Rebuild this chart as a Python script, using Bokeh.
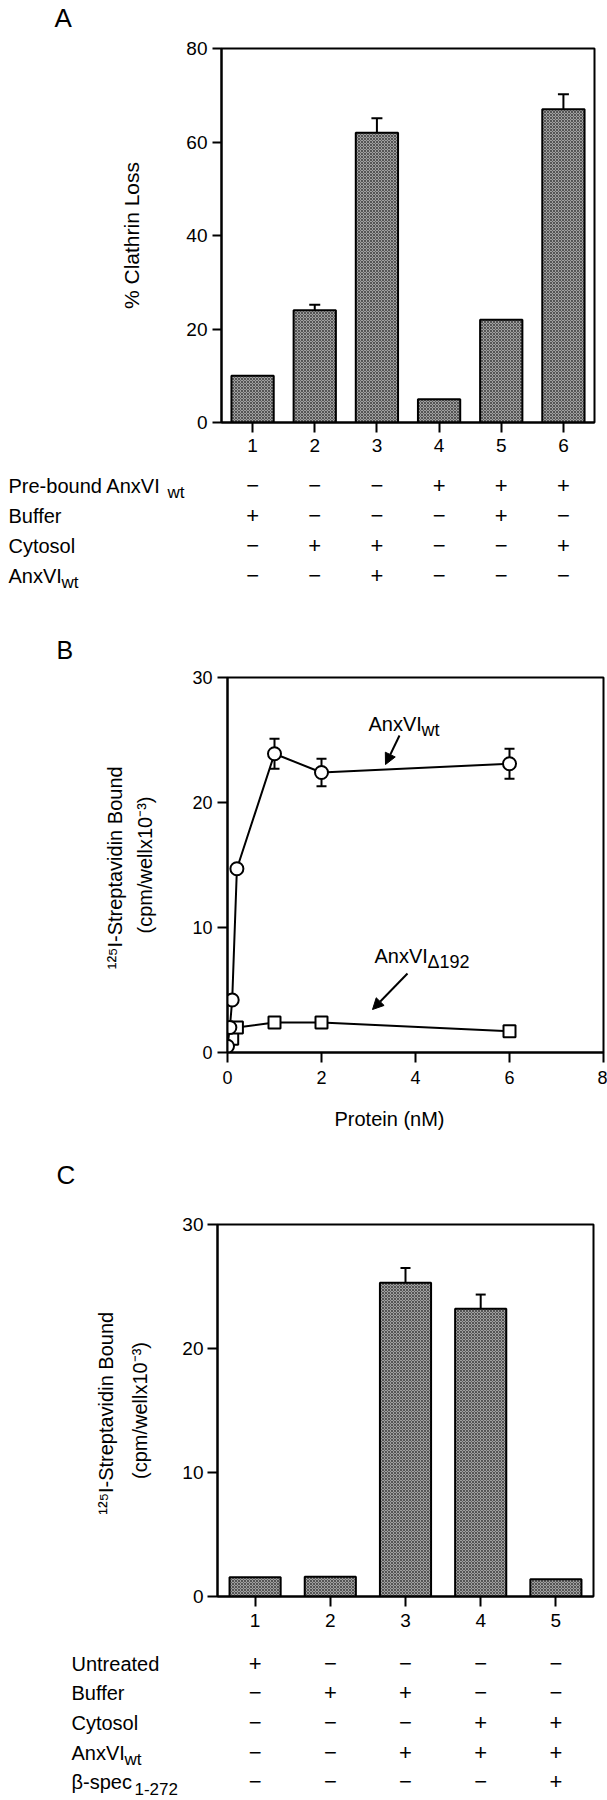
from bokeh.plotting import figure
from bokeh.models import (Range1d, FixedTicker, Whisker, TeeHead, ColumnDataSource,
                          Arrow, NormalHead, Plot)
from bokeh.layouts import column
from bokeh.embed import file_html
from bokeh.resources import INLINE
from bokeh.core.properties import value

FONT = "Liberation Sans"

# ---------------- data ----------------
# Panel A
a_lanes = [1, 2, 3, 4, 5, 6]
a_loss = [10, 24, 62, 5, 22, 67]
a_err = [0, 1.2, 3.1, 0, 0, 3.2]
a_yticks = [0, 20, 40, 60, 80]
a_row_main = ["Pre-bound AnxVI", "Buffer", "Cytosol", "AnxVI"]
a_row_sub = ["wt", "", "", "wt"]
a_prebound = ["\u2212", "\u2212", "\u2212", "+", "+", "+"]
a_buffer = ["+", "\u2212", "\u2212", "\u2212", "+", "\u2212"]
a_cytosol = ["\u2212", "+", "+", "\u2212", "\u2212", "+"]
a_anxvi = ["\u2212", "\u2212", "+", "\u2212", "\u2212", "\u2212"]

# Panel B
b_wt_x = [0, 0.05, 0.1, 0.2, 1, 2, 6]
b_wt_y = [0.5, 2.0, 4.2, 14.7, 23.9, 22.4, 23.1]
b_wt_err_x = [1, 2, 6]
b_wt_err_y = [23.9, 22.4, 23.1]
b_wt_err = [1.2, 1.1, 1.2]
b_d_x = [0, 0.1, 0.2, 1, 2, 6]
b_d_y = [1.0, 1.1, 2.0, 2.4, 2.4, 1.7]
b_xticks = [0, 2, 4, 6, 8]
b_yticks = [0, 10, 20, 30]

# Panel C
c_lanes = [1, 2, 3, 4, 5]
c_bound = [1.55, 1.6, 25.3, 23.2, 1.4]
c_err = [0, 0, 1.2, 1.15, 0]
c_yticks = [0, 10, 20, 30]
c_row_main = ["Untreated", "Buffer", "Cytosol", "AnxVI", "\u03b2-spec"]
c_row_sub = ["", "", "", "wt", "1-272"]
c_untreated = ["+", "\u2212", "\u2212", "\u2212", "\u2212"]
c_buffer = ["\u2212", "+", "+", "\u2212", "\u2212"]
c_cytosol = ["\u2212", "\u2212", "\u2212", "+", "+"]
c_anxvi = ["\u2212", "\u2212", "+", "+", "+"]
c_bspec = ["\u2212", "\u2212", "\u2212", "\u2212", "+"]

# ---------------- layout constants (page px; page origin = 0) ----------------
W = 607
NOALIGN = {"frame_align": False} if "frame_align" in Plot.properties() else {}
BAR_FILL = dict(fill_color="#a0a0a0", hatch_pattern="x", hatch_color="#404040",
                hatch_scale=3, hatch_weight=0.8, line_color="black", line_width=2)


def main_fig(xr, yr, height, left, right, top, bottom):
    p = figure(x_range=xr, y_range=yr, width=W, height=height,
               min_border_left=left, min_border_right=right,
               min_border_top=top, min_border_bottom=bottom,
               output_backend="svg", toolbar_location=None, tools="", **NOALIGN)
    p.grid.visible = False
    p.outline_line_color = "black"
    p.outline_line_width = 2
    p.outline_line_alpha = 1
    p.background_fill_color = "white"
    p.border_fill_color = "white"
    for ax in p.axis:
        ax.axis_line_width = 2
        ax.major_tick_line_width = 2
        ax.major_tick_in = 0
        ax.major_tick_out = 10
        ax.minor_tick_line_color = None
        ax.major_label_text_font = FONT
        ax.major_label_text_color = "black"
        ax.axis_label_text_font = FONT
        ax.axis_label_text_font_style = "normal"
        ax.axis_label_text_color = "black"
        ax.axis_label_text_font_size = "20px"
    return p


def blank_fig(height, xr, yr):
    t = figure(x_range=xr, y_range=yr, width=W, height=height,
               min_border=0, x_axis_location=None, y_axis_location=None,
               output_backend="svg", toolbar_location=None, tools="", **NOALIGN)
    t.grid.visible = False
    t.outline_line_color = None
    return t


def strip_fig(top, height):
    # data coordinates equal page pixel coordinates
    return blank_fig(height, Range1d(0, W), Range1d(top + height, top))


def put_text(fig, x, y, txt, size, align="left", baseline="middle"):
    fig.text(x=[x], y=[y], text=[txt], text_font=value(FONT), text_font_size=size,
             text_align=align, text_baseline=baseline, text_color="black")


def table_fig(top, height, xs, xe, rows_page_y, row_main, row_sub, sub_px, label_px,
              cols, lanes):
    t = blank_fig(height, Range1d(xs, xe), Range1d(top + height, top))
    ppx = W / (xe - xs)
    t.text(x=[xs + label_px / ppx] * len(row_main), y=rows_page_y, text=row_main,
           text_font=value(FONT), text_font_size="20px", text_baseline="middle",
           text_align="left", text_color="black")
    sx, sy, st = [], [], []
    for ry, s, spx in zip(rows_page_y, row_sub, sub_px):
        if s:
            sx.append(xs + spx / ppx)
            sy.append(ry + 7)
            st.append(s)
    t.text(x=sx, y=sy, text=st, text_font=value(FONT), text_font_size="17px",
           text_baseline="middle", text_align="left", text_color="black")
    for ry, col in zip(rows_page_y, cols):
        t.text(x=lanes, y=[ry] * len(lanes), text=col, text_font=value(FONT),
               text_font_size="22px", text_baseline="middle", text_align="center",
               text_color="black")
    return t


# ---------------- strip with "A" ----------------
SA_TOP, SA_H = 0, 38
sA = strip_fig(SA_TOP, SA_H)
put_text(sA, 54, 17, "A", "26px")

# ---------------- Panel A ----------------
A_TOP = SA_TOP + SA_H
A_H = 427
A_FL, A_FR, A_FT, A_FB = 221, 594, 48, 422
pA = main_fig(Range1d(0.5, 6.5), Range1d(0, 80), A_H, A_FL, W - A_FR,
              A_FT - A_TOP, A_H - (A_FB - A_TOP))
pA.vbar(x=a_lanes, top=a_loss, width=0.68, bottom=0, **BAR_FILL)
ea = [(x, v, e) for x, v, e in zip(a_lanes, a_loss, a_err) if e > 0]
srcA = ColumnDataSource(dict(base=[r[0] for r in ea], lower=[r[1] - r[2] for r in ea],
                             upper=[r[1] + r[2] for r in ea]))
pA.add_layout(Whisker(source=srcA, base="base", lower="lower", upper="upper",
                      line_width=2, line_color="black",
                      upper_head=TeeHead(size=11, line_width=2, line_color="black"),
                      lower_head=TeeHead(size=11, line_width=2, line_color="black")))
pA.yaxis.ticker = FixedTicker(ticks=a_yticks)
pA.xaxis.ticker = FixedTicker(ticks=a_lanes)
pA.yaxis.major_tick_out = 9
pA.yaxis.major_label_standoff = 5
pA.xaxis.major_label_standoff = 6
pA.yaxis.major_label_text_font_size = "19px"
pA.xaxis.major_label_text_font_size = "19px"
pA.yaxis.axis_label = "% Clathrin Loss"
pA.yaxis.axis_label_text_font_size = "21px"
pA.yaxis.axis_label_standoff = 40
a_ppx = (A_FR - A_FL) / 6

# ---------------- Table A (+ letter B) ----------------
TA_TOP = A_TOP + A_H
TA_H = 201
ta_xs = 0.5 - A_FL / a_ppx
ta_xe = ta_xs + W / a_ppx
tA = table_fig(TA_TOP, TA_H, ta_xs, ta_xe, [485, 515, 545, 575],
               a_row_main, a_row_sub, [167, 0, 0, 61], 8,
               [a_prebound, a_buffer, a_cytosol, a_anxvi], a_lanes)
tA.text(x=[ta_xs + 56 / a_ppx], y=[649], text=["B"], text_font=value(FONT),
        text_font_size="25px", text_baseline="middle", text_align="left",
        text_color="black")

# ---------------- Panel B ----------------
B_TOP = TA_TOP + TA_H
B_H = 429
B_FL, B_FR, B_FT, B_FB = 227, 603, 677, 1052
pB = main_fig(Range1d(0, 8), Range1d(0, 30), B_H, B_FL, W - B_FR,
              B_FT - B_TOP, B_H - (B_FB - B_TOP))
b_ppx = (B_FR - B_FL) / 8
b_ppy = (B_FB - B_FT) / 30
srcB = ColumnDataSource(dict(base=b_wt_err_x,
                             lower=[v - e for v, e in zip(b_wt_err_y, b_wt_err)],
                             upper=[v + e for v, e in zip(b_wt_err_y, b_wt_err)]))
pB.add_layout(Whisker(source=srcB, base="base", lower="lower", upper="upper",
                      line_width=2, line_color="black", level="underlay",
                      upper_head=TeeHead(size=10, line_width=2, line_color="black"),
                      lower_head=TeeHead(size=10, line_width=2, line_color="black")))
pB.line(b_d_x, b_d_y, line_color="black", line_width=2)
pB.scatter(b_d_x, b_d_y, marker="square", size=12, fill_color="white",
           line_color="black", line_width=2)
pB.line(b_wt_x, b_wt_y, line_color="black", line_width=2)
pB.scatter(b_wt_x, b_wt_y, marker="circle", size=13, fill_color="white",
           line_color="black", line_width=2)
pB.yaxis.ticker = FixedTicker(ticks=b_yticks)
pB.xaxis.ticker = FixedTicker(ticks=b_xticks)
pB.yaxis.major_label_standoff = 5
pB.xaxis.major_label_standoff = 8
pB.yaxis.major_label_text_font_size = "18px"
pB.xaxis.major_label_text_font_size = "18px"
pB.yaxis.axis_label = "\u00b9\u00b2\u2075I-Streptavidin  Bound\n(cpm/wellx10\u207b\u00b3)"
pB.yaxis.axis_label_text_font_size = "20px"
pB.yaxis.axis_label_text_line_height = 1.4
pB.yaxis.axis_label_standoff = 33


def bx(px):
    return (px - B_FL) / b_ppx


def by(py):
    return (B_FB - py) / b_ppy


pB.text(x=[bx(368), bx(374)], y=[by(723), by(955)], text=["AnxVI", "AnxVI"],
        text_font=value(FONT), text_font_size="20px", text_baseline="middle",
        text_color="black")
pB.text(x=[bx(421), bx(427)], y=[by(729), by(961)], text=["wt", "\u0394192"],
        text_font=value(FONT), text_font_size="18px", text_baseline="middle",
        text_color="black")
pB.add_layout(Arrow(end=NormalHead(size=11, fill_color="black", line_color="black"),
                    x_start=bx(399), y_start=by(735), x_end=bx(385), y_end=by(764),
                    line_width=2, line_color="black"))
pB.add_layout(Arrow(end=NormalHead(size=11, fill_color="black", line_color="black"),
                    x_start=bx(407), y_start=by(973), x_end=bx(372), y_end=by(1009),
                    line_width=2, line_color="black"))

# ---------------- strip with x label of B and letter C ----------------
SB_TOP = B_TOP + B_H
SB_H = 100
sB = strip_fig(SB_TOP, SB_H)
put_text(sB, 389, 1118, "Protein (nM)", "20px", align="center")
put_text(sB, 56, 1174, "C", "26px")

# ---------------- Panel C ----------------
C_TOP = SB_TOP + SB_H
C_H = 442
C_FL, C_FR, C_FT, C_FB = 217, 593, 1224, 1596
pC = main_fig(Range1d(0.5, 5.5), Range1d(0, 30), C_H, C_FL, W - C_FR,
              C_FT - C_TOP, C_H - (C_FB - C_TOP))
c_ppx = (C_FR - C_FL) / 5
pC.vbar(x=c_lanes, top=c_bound, width=0.68, bottom=0, **BAR_FILL)
ec = [(x, v, e) for x, v, e in zip(c_lanes, c_bound, c_err) if e > 0]
srcC = ColumnDataSource(dict(base=[r[0] for r in ec], lower=[r[1] - r[2] for r in ec],
                             upper=[r[1] + r[2] for r in ec]))
pC.add_layout(Whisker(source=srcC, base="base", lower="lower", upper="upper",
                      line_width=2, line_color="black",
                      upper_head=TeeHead(size=10, line_width=2, line_color="black"),
                      lower_head=TeeHead(size=10, line_width=2, line_color="black")))
pC.yaxis.ticker = FixedTicker(ticks=c_yticks)
pC.xaxis.ticker = FixedTicker(ticks=c_lanes)
pC.yaxis.major_label_standoff = 4
pC.xaxis.major_label_standoff = 7
pC.yaxis.major_label_text_font_size = "19px"
pC.xaxis.major_label_text_font_size = "19px"
pC.yaxis.axis_label = "\u00b9\u00b2\u2075I-Streptavidin  Bound\n(cpm/wellx10\u207b\u00b3)"
pC.yaxis.axis_label_text_font_size = "20px"
pC.yaxis.axis_label_text_line_height = 1.55
pC.yaxis.axis_label_standoff = 28

# ---------------- Table C ----------------
TC_TOP = C_TOP + C_H
TC_H = 160
tc_xs = 0.5 - C_FL / c_ppx
tc_xe = tc_xs + W / c_ppx
tC = table_fig(TC_TOP, TC_H, tc_xs, tc_xe, [1663, 1692, 1722, 1752, 1781],
               c_row_main, c_row_sub, [0, 0, 0, 124, 134], 71,
               [c_untreated, c_buffer, c_cytosol, c_anxvi, c_bspec], c_lanes)

layout = column(sA, pA, tA, pB, sB, pC, tC, spacing=0)
open("out.html", "w").write(file_html(layout, INLINE))
